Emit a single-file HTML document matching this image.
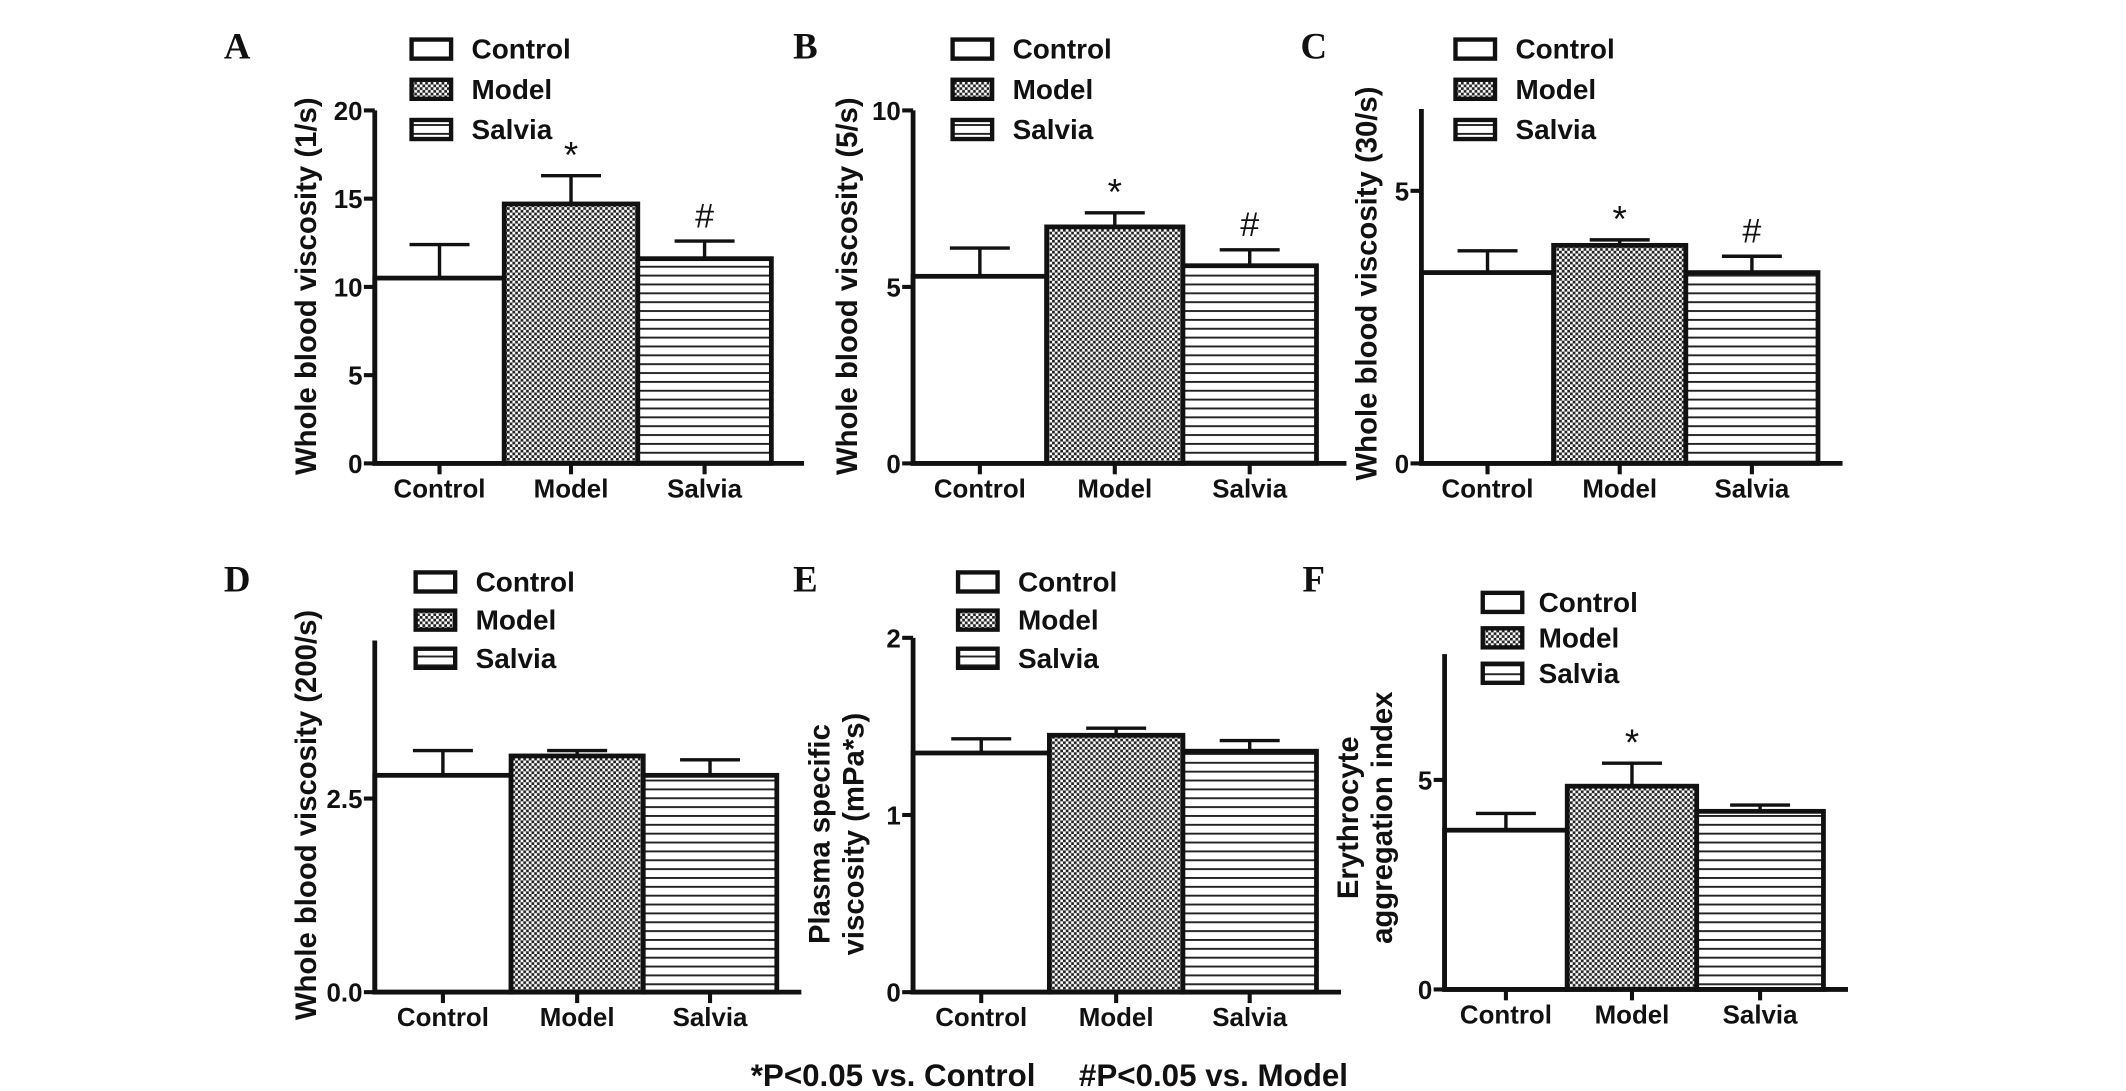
<!DOCTYPE html>
<html><head><meta charset="utf-8"><style>
html,body{margin:0;padding:0;background:#fff;}
svg{display:block;}
text{font-family:"Liberation Sans",Arial,sans-serif;font-weight:bold;fill:#111;}
.letter{font-family:"Liberation Serif",serif;font-size:27px;}
</style></head><body>
<svg id="fig" width="2126" height="1091" viewBox="0 0 1560 800.5" xmlns="http://www.w3.org/2000/svg">
<defs>
<pattern id="checker" width="4" height="4" patternUnits="userSpaceOnUse">
<rect width="4" height="4" fill="#fff"/><rect width="2" height="2" fill="#222"/><rect x="2" y="2" width="2" height="2" fill="#222"/>
</pattern>
<pattern id="hlines" width="8" height="6.5" patternUnits="userSpaceOnUse">
<rect width="8" height="6.5" fill="#fff"/><rect y="0" width="8" height="1.4" fill="#222"/>
</pattern>
</defs>
</svg>
<script>
const groups=["Control","Model","Salvia"];
const valsA=[10.5,14.7,11.6], errA=[12.4,16.3,12.6], sigA=["","*","#"], ticksA=[0,5,10,15,20];
const valsB=[5.3,6.7,5.6], errB=[6.1,7.1,6.05], sigB=["","*","#"], ticksB=[0,5,10];
const valsC=[3.5,4.0,3.5], errC=[3.9,4.1,3.8], sigC=["","*","#"], ticksC=[0,5];
const valsD=[2.8,3.05,2.8], errD=[3.12,3.12,3.0], sigD=["","",""], ticksD=["0.0","2.5"];
const valsE=[1.35,1.45,1.36], errE=[1.43,1.49,1.42], sigE=["","",""], ticksE=[0,1,2];
const valsF=[3.8,4.85,4.25], errF=[4.2,5.4,4.4], sigF=["","*",""], ticksF=[0,5];
const fills=["#fff","url(#checker)","url(#hlines)"];
const svg=document.getElementById('fig');
const NS="http://www.w3.org/2000/svg";
function mk(tag,attrs,parent){const e=document.createElementNS(NS,tag);for(const k in attrs)e.setAttribute(k,attrs[k]);(parent||svg).appendChild(e);return e;}
const panels=[
 {id:"a",letter:"A",lx:174,ly:43,x0:275,y0:340,yTop:81,max:20,xEnd:590,bars:[275,370,468,566],vals:valsA,err:errA,sig:sigA,ticks:ticksA,ylab:["Whole blood viscosity (1/s)"],ylx:232,yly:210,leg:[302,346,36,29.5]},
 {id:"b",letter:"B",lx:591,ly:43,x0:670,y0:340,yTop:81,max:10,xEnd:988,bars:[670,768,868,966],vals:valsB,err:errB,sig:sigB,ticks:ticksB,ylab:["Whole blood viscosity (5/s)"],ylx:629,yly:210,leg:[699,743,36,29.5]},
 {id:"c",letter:"C",lx:964,ly:43,x0:1043,y0:340,yTop:80,max:6.5,xEnd:1352,bars:[1043,1140,1237,1334],vals:valsC,err:errC,sig:sigC,ticks:ticksC,ylab:["Whole blood viscosity (30/s)"],ylx:1010,yly:208,leg:[1068,1112,36,29.5]},
 {id:"d",letter:"D",lx:174,ly:434,x0:275,y0:728,yTop:470,max:4.54,xEnd:588,bars:[275,375,472,570],vals:valsD,err:errD,sig:sigD,ticks:ticksD,ylab:["Whole blood viscosity (200/s)"],ylx:232,yly:598,leg:[305,349,427,28]},
 {id:"e",letter:"E",lx:591,ly:434,x0:670,y0:728,yTop:468,max:2,xEnd:984,bars:[670,770,868,966],vals:valsE,err:errE,sig:sigE,ticks:ticksE,ylab:["Plasma specific","viscosity (mPa*s)"],ylx:621,yly:612,leg:[703,747,427,28]},
 {id:"f",letter:"F",lx:964,ly:434,x0:1060,y0:726,yTop:480,max:8.0,xEnd:1356,bars:[1060,1150,1245,1338],vals:valsF,err:errF,sig:sigF,ticks:ticksF,ylab:["Erythrocyte","aggregation index"],ylx:1009,yly:600,leg:[1088,1129,442,26]}
];
panels.forEach(p=>{
 const g=mk('g',{});
 
 
 const ys=v=>p.y0-(parseFloat(v)/p.max)*(p.y0-p.yTop);
 const L=mk('text',{x:p.lx,y:p.ly,class:'letter','text-anchor':'middle'},g);L.textContent=p.letter;
 
 p.vals.forEach((v,i)=>{
  const x1=p.bars[i],x2=p.bars[i+1],cx=(x1+x2)/2,y=ys(v),ye=ys(p.err[i]);
  const eb=mk('path',{d:`M${cx} ${y} V${ye} M${cx-22} ${ye} H${cx+22}`,stroke:'#111','stroke-width':2.5,fill:'none'},g);
  
  const r=mk('rect',{x:x1,y:y,width:x2-x1,height:p.y0-y,fill:fills[i],stroke:'#111','stroke-width':3.5},g);
  
  if(p.sig[i]){const s=mk('text',{x:cx,y:ye-(p.sig[i]=="*"?6:10),'text-anchor':'middle','font-size':p.sig[i]=="*"?27:25},g);s.style.fontWeight='normal';s.textContent=p.sig[i];
   }
  mk('path',{d:`M${cx} ${p.y0} V${p.y0+8}`,stroke:'#111','stroke-width':3},g);
  const xl=mk('text',{x:cx,y:p.y0+25,'text-anchor':'middle','font-size':19},g);xl.textContent=groups[i];
  
 });
 const ax=mk('path',{d:`M${p.x0} ${p.yTop} V${p.y0} H${p.xEnd}`,stroke:'#111','stroke-width':3.5,fill:'none'},g);
 
 p.ticks.forEach(t=>{
  const y=ys(t);
  mk('path',{d:`M${p.x0-8} ${y} H${p.x0}`,stroke:'#111','stroke-width':3},g);
  const tl=mk('text',{x:p.x0-9,y:y+7,'text-anchor':'end','font-size':19},g);tl.textContent=t;
  
 });
 const yl=mk('text',{transform:`translate(${p.ylx},${p.yly}) rotate(-90)`,'text-anchor':'middle','font-size':21.5},g);
 
 p.ylab.forEach((s,k)=>{const ts=mk('tspan',{x:0,y:(k-(p.ylab.length-1)/2)*25},yl);ts.textContent=s;});
 const [bx,tx,ry,dy]=p.leg;
 groups.forEach((gname,i)=>{
  const cy=ry+i*dy;
  const lg=mk('g',{},g);
  
  mk('rect',{x:bx,y:cy-7,width:29,height:14,fill:fills[i],stroke:'#111','stroke-width':3.2},lg);
  const t=mk('text',{x:tx,y:cy+7,'font-size':20.5},lg);t.textContent=gname;
 });
});
const f=mk('text',{x:770,y:797,'text-anchor':'middle','font-size':23});


f.textContent="*P<0.05 vs. Control     #P<0.05 vs. Model";
f.style.whiteSpace='pre';
</script>
</body></html>
